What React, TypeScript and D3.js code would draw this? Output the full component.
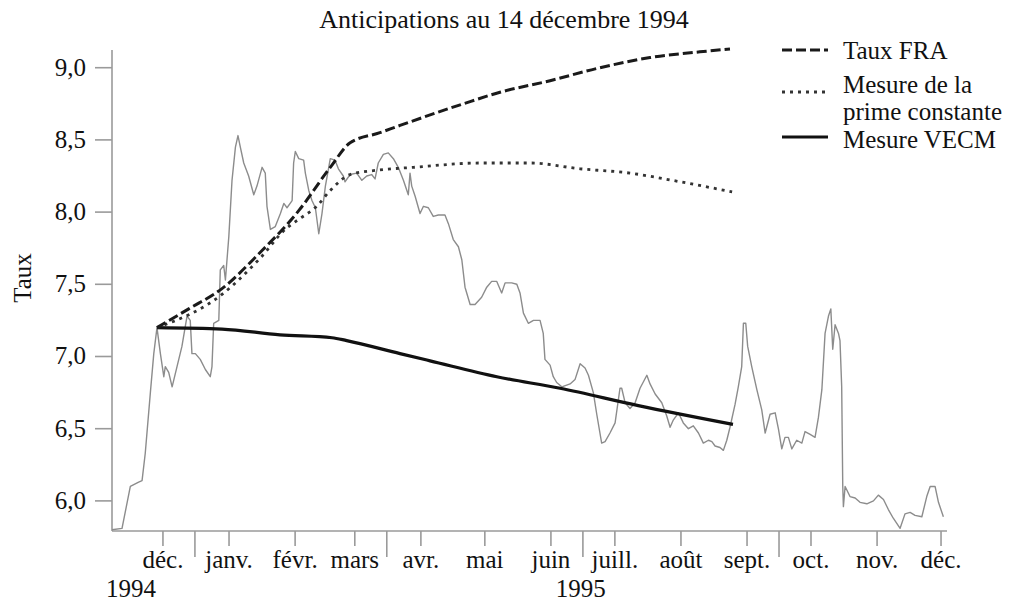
import React from 'react';
import * as d3 from 'd3';

const title = 'Anticipations au 14 décembre 1994';
const yLabel = 'Taux';
const yTicks = [6.0, 6.5, 7.0, 7.5, 8.0, 8.5, 9.0];
const monthTicks = ['1994-12-01', '1995-01-01', '1995-02-01', '1995-03-01', '1995-04-01', '1995-05-01', '1995-06-01', '1995-07-01', '1995-08-01', '1995-09-01', '1995-10-01', '1995-11-01', '1995-12-01'];
const monthLabels = ['déc.', 'janv.', 'févr.', 'mars', 'avr.', 'mai', 'juin', 'juill.', 'août', 'sept.', 'oct.', 'nov.', 'déc.'];
const quarterTicks = ['1994-12-16', '1995-03-16', '1995-06-16', '1995-09-16'];
const yearLabels = ['1994', '1995'];
const yearLabelDates = ['1994-11-16', '1995-06-15'];
const legendLabels = [['Taux FRA'], ['Mesure de la', 'prime constante'], ['Mesure VECM']];

// [days since 1994-11-01, rate]
const rateSeries: [number, number][] = [
  [6.1, 5.80], [10.8, 5.81], [14.7, 6.10], [18.6, 6.13], [20.2, 6.14], [21.7, 6.33], [24.1, 6.75], [25.7, 7.02],
  [27.2, 7.20], [28.8, 7.02], [30.4, 6.86], [31.1, 6.93], [32.7, 6.89], [34.3, 6.79], [36.6, 6.93], [38.9, 7.07],
  [41.3, 7.28], [42.8, 7.25], [43.6, 7.02], [45.2, 7.02], [47.5, 6.98], [49.9, 6.91], [52.2, 6.86], [53.0, 6.93],
  [53.8, 7.23], [56.2, 7.25], [56.9, 7.60], [58.5, 7.63], [59.3, 7.53], [60.9, 7.83], [62.4, 8.22], [64.0, 8.45],
  [65.2, 8.53], [66.3, 8.45], [67.9, 8.34], [70.2, 8.25], [72.6, 8.12], [74.1, 8.18], [76.5, 8.31], [78.0, 8.27],
  [78.8, 8.04], [80.4, 7.88], [82.7, 7.90], [85.1, 7.99], [86.7, 8.06], [88.2, 8.03], [90.6, 8.08], [91.3, 8.34],
  [92.1, 8.42], [93.7, 8.37], [96.0, 8.36], [96.8, 8.27], [98.4, 8.15], [99.9, 8.08], [101.5, 8.03], [103.1, 7.85],
  [104.6, 7.99], [106.2, 8.18], [108.5, 8.37], [110.7, 8.36], [112.3, 8.30], [114.6, 8.25], [115.4, 8.21], [117.8, 8.26],
  [120.9, 8.27], [123.3, 8.22], [125.6, 8.25], [127.9, 8.26], [129.5, 8.23], [131.0, 8.34], [133.4, 8.40], [135.7, 8.41],
  [138.1, 8.37], [140.4, 8.31], [142.8, 8.22], [145.1, 8.12], [145.9, 8.27], [146.7, 8.18], [148.3, 8.11], [150.6, 7.99],
  [152.2, 8.04], [154.5, 8.03], [156.8, 7.97], [159.2, 7.98], [162.3, 7.98], [163.9, 7.92], [166.2, 7.81], [168.6, 7.76],
  [170.2, 7.67], [171.7, 7.48], [174.1, 7.36], [176.4, 7.36], [179.5, 7.41], [181.9, 7.48], [184.2, 7.52], [186.6, 7.52],
  [188.9, 7.44], [190.5, 7.51], [193.6, 7.51], [196.0, 7.50], [197.5, 7.44], [199.1, 7.30], [201.4, 7.23], [203.8, 7.25],
  [206.9, 7.25], [208.4, 7.16], [209.2, 6.98], [211.6, 6.94], [213.1, 6.86], [214.7, 6.82], [217.1, 6.79], [221.0, 6.81],
  [223.3, 6.84], [225.7, 6.95], [228.0, 6.92], [229.6, 6.87], [231.9, 6.75], [233.5, 6.60], [235.8, 6.40], [237.4, 6.41],
  [239.7, 6.47], [242.1, 6.54], [244.4, 6.78], [245.2, 6.78], [246.8, 6.68], [249.1, 6.64], [251.5, 6.68], [253.8, 6.78],
  [257.0, 6.87], [258.5, 6.81], [260.9, 6.74], [264.0, 6.68], [266.3, 6.59], [267.9, 6.51], [269.4, 6.56], [271.8, 6.61],
  [274.1, 6.54], [276.5, 6.50], [278.8, 6.52], [281.2, 6.47], [283.5, 6.40], [285.9, 6.42], [287.5, 6.41], [289.0, 6.38],
  [291.3, 6.37], [292.9, 6.35], [294.5, 6.42], [296.0, 6.51], [298.4, 6.67], [299.9, 6.79], [301.5, 6.93], [302.3, 7.23],
  [303.4, 7.23], [304.3, 7.07], [306.2, 6.93], [308.6, 6.77], [310.9, 6.63], [312.5, 6.47], [314.8, 6.60], [317.2, 6.61],
  [318.7, 6.50], [320.3, 6.36], [321.8, 6.44], [323.4, 6.44], [325.0, 6.36], [327.3, 6.42], [329.7, 6.40], [331.2, 6.48],
  [333.6, 6.46], [335.9, 6.44], [337.5, 6.58], [339.1, 6.77], [340.6, 7.16], [342.2, 7.28], [343.3, 7.33], [344.2, 7.05],
  [345.3, 7.22], [346.9, 7.16], [347.6, 7.11], [348.4, 6.79], [348.9, 6.10], [349.2, 5.96], [350.0, 6.10], [352.3, 6.03],
  [354.7, 6.02], [357.0, 5.99], [360.2, 5.98], [363.3, 6.00], [365.6, 6.04], [368.0, 6.01], [370.3, 5.94], [372.6, 5.88],
  [375.8, 5.81], [378.1, 5.91], [380.5, 5.92], [382.8, 5.90], [386.0, 5.89], [388.3, 6.03], [389.9, 6.10], [392.2, 6.10],
  [393.8, 5.99], [396.1, 5.89],
];

const fraSeries: [number, number][] = [
  [27.2, 7.20], [42.1, 7.33], [57.7, 7.47], [74.9, 7.71], [93.7, 8.01], [108.5, 8.31], [117.8, 8.48], [131.8, 8.55],
  [141.2, 8.60], [170.9, 8.75], [188.1, 8.83], [211.6, 8.91], [235.0, 9.00], [258.5, 9.07], [281.9, 9.11], [296.0, 9.13],
];

const primeSeries: [number, number][] = [
  [27.2, 7.20], [57.7, 7.43], [74.9, 7.67], [88.1, 7.89], [93.7, 7.95], [102.1, 8.04], [108.5, 8.15], [117.8, 8.26],
  [130.3, 8.29], [147.5, 8.31], [178.7, 8.34], [202.2, 8.34], [225.7, 8.30], [249.1, 8.27], [272.6, 8.21], [297.0, 8.14],
];

const vecmSeries: [number, number][] = [
  [27.2, 7.20], [57.7, 7.19], [84.9, 7.15], [109.3, 7.13], [116.2, 7.11], [141.2, 7.02], [155.3, 6.97], [186.6, 6.86],
  [216.3, 6.78], [253.0, 6.66], [297.4, 6.53],
];

const BASE = Date.UTC(1994, 10, 1);
const dayToDate = (d: number) => new Date(BASE + d * 86400000);

const W = 1014;
const H = 603;
const FONT = '"Liberation Serif", "Times New Roman", serif';

export default function App() {
  const x = d3.scaleUtc().domain([dayToDate(6.1), dayToDate(397.8)]).range([112, 947]);
  const y = d3.scaleLinear().domain([5.7915, 9.1226]).range([531, 50]);
  const line = d3.line<[number, number]>().x(d => x(dayToDate(d[0]))).y(d => y(d[1]));
  const smooth = d3.line<[number, number]>().x(d => x(dayToDate(d[0]))).y(d => y(d[1])).curve(d3.curveMonotoneX);
  const fmt = (v: number) => v.toFixed(1).replace('.', ',');
  const axisColor = '#9a9a9a';
  const x0 = x.range()[0];
  const x1 = x.range()[1];
  const yBottom = y.range()[0];
  const yTop = y.range()[1];

  const legendStyles = [
    { dash: '10,4', width: 3, color: '#1a1a1a' },
    { dash: '3,5', width: 2.8, color: '#333' },
    { dash: undefined, width: 3.2, color: '#111' },
  ];
  const legendLineY = [50, 92, 137];
  const legendTextY = [[59], [93, 120], [148]];

  return (
    <svg width={W} height={H} style={{ position: 'absolute', left: 0, top: 0, background: '#fff' }} fontFamily={FONT}>
      <text x={504} y={28} fontSize={26} textAnchor="middle" fill="#111">{title}</text>
      {/* Axes */}
      <line x1={x0} x2={x0} y1={yTop} y2={yBottom} stroke={axisColor} strokeWidth={1.6} />
      <line x1={x0} x2={x1} y1={yBottom} y2={yBottom} stroke={axisColor} strokeWidth={1.6} />
      {yTicks.map(t => (
        <g key={t}>
          <line x1={x0 - 17} x2={x0} y1={y(t)} y2={y(t)} stroke={axisColor} strokeWidth={1.6} />
          <text x={86} y={y(t)} dy="0.32em" fontSize={25} textAnchor="end" fill="#111">{fmt(t)}</text>
        </g>
      ))}
      <text transform={`translate(30.5,278) rotate(-90)`} fontSize={25} textAnchor="middle" fill="#111">{yLabel}</text>
      {monthTicks.map((m, i) => {
        const px = x(new Date(m));
        return (
          <g key={m + i}>
            <line x1={px} x2={px} y1={yBottom} y2={yBottom + 15} stroke={axisColor} strokeWidth={1.6} />
            <text x={px} y={568} fontSize={25} textAnchor="middle" fill="#111">{monthLabels[i]}</text>
          </g>
        );
      })}
      {quarterTicks.map(q => {
        const px = x(new Date(q));
        return <line key={q} x1={px} x2={px} y1={yBottom} y2={yBottom + 26} stroke={axisColor} strokeWidth={1.6} />;
      })}
      {yearLabels.map((yl, i) => (
        <text key={yl} x={x(new Date(yearLabelDates[i]))} y={597} fontSize={25} textAnchor="middle" fill="#111">{yl}</text>
      ))}
      {/* Series */}
      <path d={line(rateSeries) || ''} fill="none" stroke="#8c8c8c" strokeWidth={1.4} strokeLinejoin="round" />
      <path d={smooth(vecmSeries) || ''} fill="none" stroke="#111" strokeWidth={3.2} />
      <path d={smooth(primeSeries) || ''} fill="none" stroke="#333" strokeWidth={2.8} strokeDasharray="3,5" />
      <path d={smooth(fraSeries) || ''} fill="none" stroke="#1a1a1a" strokeWidth={3} strokeDasharray="10,4" />
      {/* Legend */}
      {legendLabels.map((lines, i) => (
        <g key={i}>
          <line x1={782} x2={828} y1={legendLineY[i]} y2={legendLineY[i]} stroke={legendStyles[i].color}
            strokeWidth={legendStyles[i].width} strokeDasharray={legendStyles[i].dash} />
          {lines.map((t, j) => (
            <text key={t} x={843} y={legendTextY[i][j]} fontSize={25} fill="#111">{t}</text>
          ))}
        </g>
      ))}
    </svg>
  );
}
